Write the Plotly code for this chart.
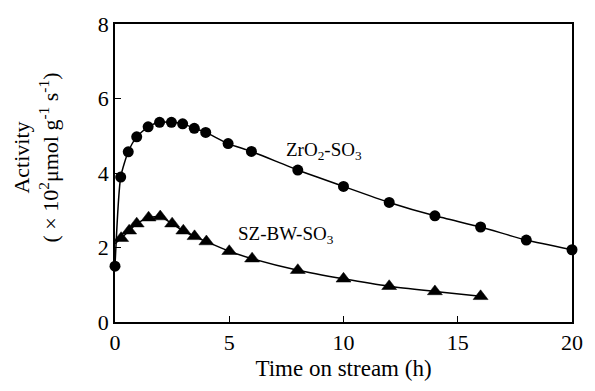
import plotly.graph_objects as go

# Time on stream (h) and activity (x10^2 umol g^-1 s^-1)
zr_time = [0, 0.25, 0.58, 0.95, 1.45, 1.95, 2.47, 2.96, 3.47, 3.97, 4.95, 5.97, 8.0, 10.0, 12.0, 14.0, 16.0, 18.0, 20.0]
zr_activity = [1.5, 3.89, 4.57, 4.97, 5.24, 5.36, 5.36, 5.32, 5.2, 5.09, 4.79, 4.58, 4.08, 3.64, 3.21, 2.85, 2.55, 2.2, 1.94]

sz_time = [0, 0.27, 0.62, 0.95, 1.47, 1.98, 2.5, 2.99, 3.48, 4.0, 5.0, 6.0, 8.0, 10.0, 12.0, 14.0, 16.0]
sz_activity = [2.1, 2.25, 2.45, 2.64, 2.8, 2.83, 2.64, 2.45, 2.3, 2.16, 1.9, 1.7, 1.39, 1.16, 0.96, 0.82, 0.69]

x_ticks = [0, 5, 10, 15, 20]
y_ticks = [0, 2, 4, 6, 8]

FONT = "Liberation Serif, Times New Roman, serif"
LINE = dict(color="black", width=1.5, shape="spline", smoothing=0.6)

fig = go.Figure()
# ZrO2-SO3: smooth curve with filled circles
fig.add_trace(go.Scatter(
    x=zr_time, y=zr_activity, mode="lines+markers", line=LINE,
    marker=dict(symbol="circle", size=11, color="black", opacity=1, line=dict(width=0)),
    cliponaxis=False, showlegend=False,
))
# SZ-BW-SO3: curve starts at t=0, markers from the first sample on
fig.add_trace(go.Scatter(
    x=sz_time, y=sz_activity, mode="lines", line=LINE,
    cliponaxis=False, showlegend=False,
))
fig.add_trace(go.Scatter(
    x=sz_time[1:], y=sz_activity[1:], mode="markers",
    marker=dict(symbol="triangle-up", size=13, color="black", opacity=1, line=dict(width=0.5, color="black")),
    cliponaxis=False, showlegend=False,
))

axis_common = dict(
    showgrid=False, zeroline=False, showline=True, linecolor="black", linewidth=1.5,
    mirror=True, ticks="inside", ticklen=6, tickwidth=1, tickcolor="black",
    tickfont=dict(family=FONT, size=22, color="black"),
)

fig.update_xaxes(range=[0, 20], tickvals=x_ticks, **axis_common,
                 title=dict(text="Time on stream (h)", font=dict(family=FONT, size=23, color="black"), standoff=6))
fig.update_yaxes(range=[0, 8], tickvals=y_ticks, **axis_common)

fig.add_annotation(
    xref="paper", yref="paper", x=0, y=0.552, xshift=-79, xanchor="center", yanchor="middle",
    textangle=-90, showarrow=False, align="center",
    text="Activity<br>( × 10<sup>2</sup>μmol g<sup>-1</sup> s<sup>-1</sup>)",
    font=dict(family=FONT, size=22, color="black"),
)
fig.add_annotation(
    x=9.15, y=4.6, xref="x", yref="y", showarrow=False,
    text="ZrO<sub>2</sub>-SO<sub>3</sub>", font=dict(family=FONT, size=19, color="black"),
)
fig.add_annotation(
    x=7.5, y=2.33, xref="x", yref="y", showarrow=False,
    text="SZ-BW-SO<sub>3</sub>", font=dict(family=FONT, size=19, color="black"),
)

fig.update_layout(
    width=595, height=391,
    margin=dict(l=115, r=18, t=14, b=69),
    paper_bgcolor="white", plot_bgcolor="white",
)

fig.write_html("out.html")
